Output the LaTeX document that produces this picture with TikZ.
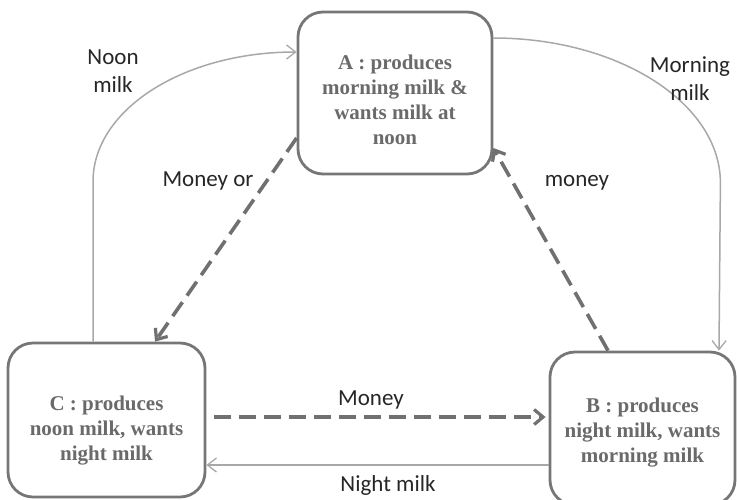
\documentclass[tikz,border=0pt]{standalone}
\usepackage{fontspec}
\setmainfont{Liberation Serif}
\newfontfamily\labelfont{Carlito}
\usetikzlibrary{arrows.meta}

\definecolor{boxgray}{HTML}{767676}
\definecolor{boxtext}{HTML}{6A6A6A}
\definecolor{milkgray}{HTML}{A8A8A8}
\definecolor{moneygray}{HTML}{707070}
\definecolor{labeltext}{HTML}{262626}

\begin{document}
\begin{tikzpicture}[x=1pt, y=-1pt,
    party/.style={draw=boxgray, line width=2.8pt, rounded corners=25pt},
    partytext/.style={text=boxtext, align=center,
                  font=\fontsize{21}{25}\selectfont\bfseries},
    milk/.style={draw=milkgray, line width=1.5pt,
                 -{Straight Barb[length=9pt, width=14pt, line width=1.3pt]}},
    money/.style={draw=moneygray, line width=3.6pt, dash pattern=on 17pt off 8pt,
                  -{Straight Barb[length=9pt, width=15pt, line width=3.2pt]}},
    lbl/.style={text=labeltext, align=center,
                font=\labelfont\fontsize{23}{28}\selectfont}
   ]
\useasboundingbox (0,0) rectangle (737,499);

% the three farmers
\node[party, minimum width=194pt, minimum height=162pt,
      label={[partytext, yshift=-7pt]center:{A : produces\\morning milk \&\\wants milk at\\noon}}]
      (A) at (395,93) {};
\node[party, minimum width=197pt, minimum height=154pt,
      label={[partytext, yshift=-11pt]center:{C : produces\\noon milk, wants\\night milk}}]
      (C) at (106.5,420) {};
\node[party, minimum width=185pt, minimum height=153pt,
      label={[partytext, yshift=-4pt]center:{B : produces\\night milk, wants\\morning milk}}]
      (B) at (642.5,428.5) {};

% milk goes round
\draw[milk] ([xshift=-13.5pt]C.north) -- ++(0,-160)
    .. controls +(0,-72) and +(-113,0) .. ([yshift=41pt]A.west);
\draw[milk] ([yshift=55pt]A.east) .. controls +(125,0) and +(0,-80) .. ++(227,145)
    -- ([xshift=76.5pt]B.north);
\draw[milk] ([yshift=-36.5pt]B.west) -- ([yshift=-45pt]C.east);

% money goes the other way
\draw[money] ([yshift=-45pt]A.west) -- ([xshift=48.5pt]C.north);
\draw[money] ([xshift=8pt, yshift=3pt]C.east) -- ([xshift=-3pt, yshift=11.5pt]B.west);
\draw[money] ([xshift=-34.5pt]B.north) -- ([yshift=-55pt]A.east);

\node[lbl] (noon) at (113,71) {Noon\\milk};
\node[lbl] (morning) at (690,79) {Morning\\milk};
\node[lbl] (moneyor) at (208,181) {Money or};
\node[lbl] (moneyba) at (577,183) {money};
\node[lbl] (moneycb) at (371,400) {Money};
\node[lbl] (night) at (388,485) {Night milk};

\end{tikzpicture}
\end{document}
